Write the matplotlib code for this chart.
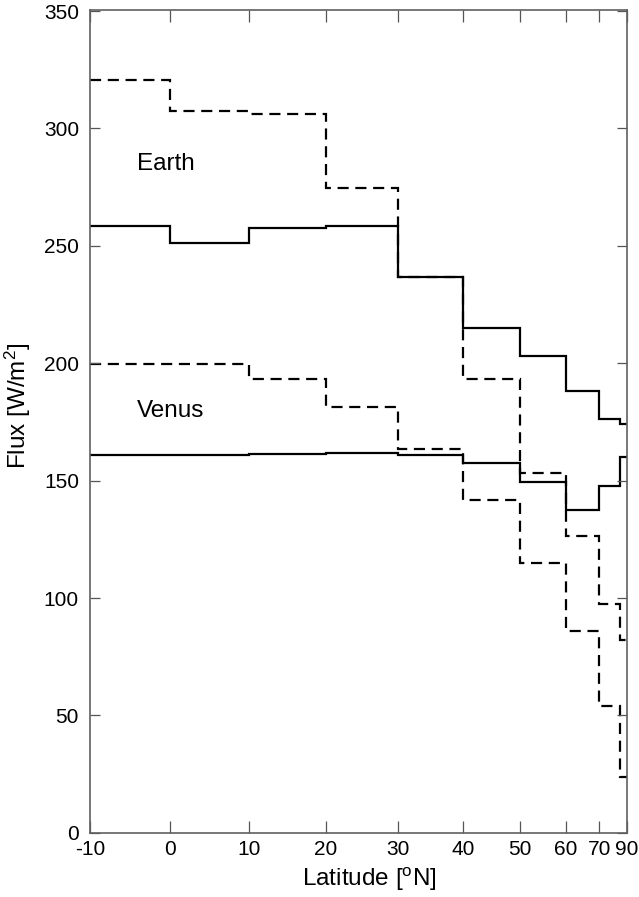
import numpy as np
import matplotlib
matplotlib.use("Agg")
import matplotlib.pyplot as plt

plt.rcParams["font.family"] = ["Liberation Sans", "DejaVu Sans"]
plt.rcParams["mathtext.fontset"] = "custom"
plt.rcParams["mathtext.rm"] = "Liberation Sans"
plt.rcParams["mathtext.it"] = "Liberation Sans:italic"

# latitude bin edges (deg N)
edges = [-10, 0, 10, 20, 30, 40, 50, 60, 70, 80, 90]

# fluxes per latitude band, W/m^2
earth_solid = [258.3, 251.2, 257.8, 258.3, 236.6, 215.1, 203.2, 188.2, 176.3, 174.3]
earth_dash = [320.7, 307.6, 306.2, 274.7, 236.8, 193.1, 153.3, 126.5, 97.5, 82.2]
venus_solid = [161.0, 161.0, 161.5, 161.7, 160.8, 157.7, 149.3, 137.6, 147.6, 160.2]
venus_dash = [199.8, 199.5, 193.5, 181.2, 163.6, 141.8, 115.1, 85.8, 54.0, 23.6]

xticks = [-10, 0, 10, 20, 30, 40, 50, 60, 70, 90]
yticks = [0, 50, 100, 150, 200, 250, 300, 350]


# x axis is area weighted: sin(latitude)
def fwd(x):
    return np.sin(np.radians(x))


def inv(s):
    return np.degrees(np.arcsin(np.clip(s, -1, 1)))


fig = plt.figure(figsize=(6.39, 8.97), dpi=100)
ax = fig.add_axes([0.141, 0.0715, 0.840, 0.9175])
ax.set_xscale("function", functions=(fwd, inv))

ax.stairs(earth_solid, edges, baseline=None, color="black", lw=1.6)
ax.stairs(earth_dash, edges, baseline=None, color="black", lw=1.6, ls=(0, (5, 3)))
ax.stairs(venus_solid, edges, baseline=None, color="black", lw=1.6)
ax.stairs(venus_dash, edges, baseline=None, color="black", lw=1.6, ls=(0, (5, 3)))

ax.text(-4.1, 285, "Earth", fontsize=17.5, va="center", ha="left")
ax.text(-4.1, 179.5, "Venus", fontsize=17.5, va="center", ha="left")

ax.set_xlim(-10, 90)
ax.set_ylim(0, 350.5)
ax.set_xticks(xticks)
ax.set_xticklabels([str(t) for t in xticks])
ax.set_yticks(yticks)
ax.minorticks_off()

ax.tick_params(axis="x", direction="in", length=8.5, width=0.9, color="#555555",
               labelsize=15, pad=5, top=True)
ax.tick_params(axis="y", direction="in", length=7.5, width=0.9, color="#555555",
               labelsize=15, pad=8, right=True)
for sp in ax.spines.values():
    sp.set_color("#606060")
    sp.set_linewidth(1.2)

ax.set_xlabel(r"Latitude [$^{\mathrm{o}}$N]", fontsize=17.5)
ax.set_ylabel(r"Flux [W/m$^{2}$]", fontsize=17.5)
ax.xaxis.set_label_coords(0.52, -0.040)
ax.yaxis.set_label_coords(-0.106, 0.519)

fig.savefig("out.png", dpi=100)
